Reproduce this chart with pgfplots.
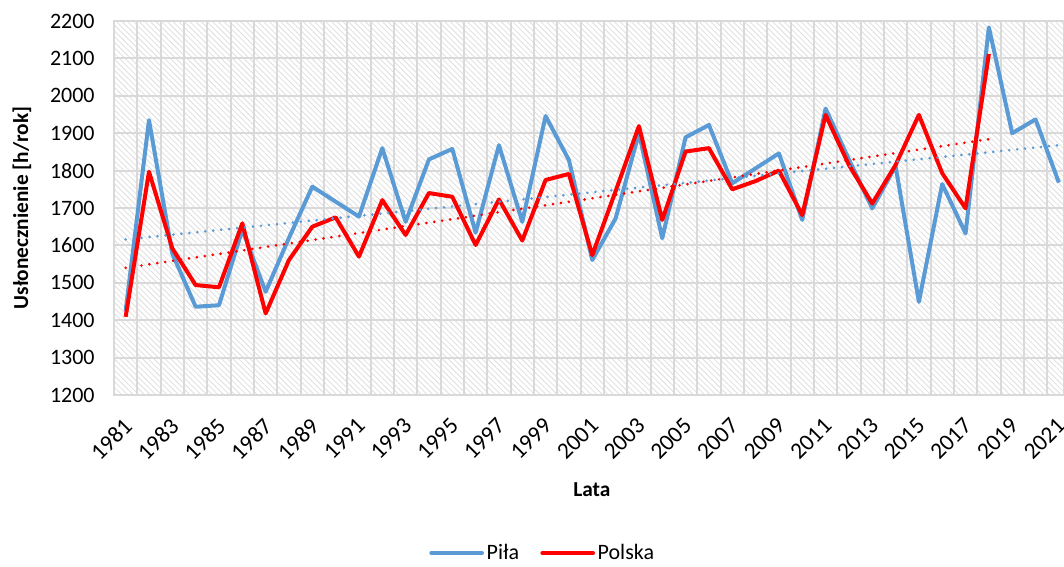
\documentclass[border=0pt]{standalone}
\usepackage{fontspec}
\setmainfont{Carlito}
\usepackage{pgfplots}
\pgfplotsset{compat=1.18}
\usepackage{pgfplotstable}
\usetikzlibrary{patterns.meta}
\definecolor{pila}{HTML}{5B9BD5}
\definecolor{polska}{HTML}{FF0000}
\definecolor{gridc}{HTML}{D9D9D9}
\pgfplotstableread{
i pila
0 1425
1 1935
2 1578
3 1436
4 1440
5 1642
6 1476
7 1620
8 1757
9 1717
10 1677
11 1860
12 1663
13 1830
14 1858
15 1634
16 1868
17 1663
18 1946
19 1828
20 1561
21 1672
22 1900
23 1619
24 1889
25 1922
26 1766
27 1806
28 1846
29 1668
30 1966
31 1830
32 1699
33 1812
34 1449
35 1764
36 1632
37 2183
38 1900
39 1937
40 1768
}\pilatab
\pgfplotstableread{
i polska
0 1409
1 1797
2 1592
3 1494
4 1488
5 1659
6 1418
7 1561
8 1650
9 1675
10 1570
11 1721
12 1628
13 1740
14 1730
15 1601
16 1723
17 1613
18 1775
19 1791
20 1574
21 1745
22 1919
23 1668
24 1851
25 1860
26 1750
27 1772
28 1800
29 1681
30 1949
31 1815
32 1712
33 1815
34 1949
35 1793
36 1699
37 2112
}\polskatab
\begin{document}
\begin{tikzpicture}
\path[use as bounding box] (0,0) rectangle (798pt,-425.25pt);
\begin{axis}[
  at={(85.5pt,-296.25pt)}, anchor=south west,
  scale only axis, width=712.5pt, height=280.5pt,
  xmin=-0.5, xmax=40.22, ymin=1200, ymax=2200,
  ytick={1200,1300,...,2200},
  xtick={0,2,...,40},
  xticklabels={1981,1983,1985,1987,1989,1991,1993,1995,1997,1999,2001,2003,2005,2007,2009,2011,2013,2015,2017,2019,2021},
  minor xtick={-0.5,0.5,...,40.5},
  xminorgrids, ymajorgrids,
  major tick length=0pt, minor tick length=0pt,
  tick style={draw=none},
  grid style={gridc, line width=1.5pt},
  minor grid style={gridc, line width=1.5pt},
  axis line style={gridc, line width=1.5pt},
  axis background/.style={pattern={Lines[angle=-45,distance=3pt,line width=0.6pt]}, pattern color=black!13},
  /pgf/number format/assume math mode=true,
  /pgf/number format/set thousands separator={},
  every tick label/.append style={font=\fontsize{16.5}{19}\selectfont},
  xticklabel style={font=\fontsize{17.5}{20}\selectfont, inner sep=0pt, anchor=north east, xshift=-2.5pt, yshift=-16pt, rotate=45},
  yticklabel style={xshift=-11pt},
  xlabel={\textbf{Lata}}, ylabel={\textbf{Usłonecznienie [h/rok]}},
  label style={font=\fontsize{16}{19}\selectfont},
  xlabel style={at={(axis description cs:0.503,-0.254)}, anchor=center},
  ylabel style={at={(axis description cs:-0.097,0.5)}, anchor=center},
  legend style={at={(axis description cs:0.4516,-0.4225)}, anchor=center, draw=none, fill=none,
    legend columns=2, font=\fontsize{16.5}{19}\selectfont,
    /tikz/every even column/.append style={column sep=14pt}},
  legend image code/.code={\draw[#1, line cap=round] (0pt,0pt) -- (38pt,0pt);},
]
\addplot[pila, line width=3pt, line join=round] table[x=i, y=pila] {\pilatab};
\addlegendentry{Piła}
\addplot[polska, line width=3pt, line join=round] table[x=i, y=polska] {\polskatab};
\addlegendentry{Polska}
\addplot[pila, line width=2.2pt, line cap=round, dash pattern=on 0pt off 6pt, forget plot] coordinates {(0,1616) (40,1868)};
\addplot[polska, line width=2.2pt, line cap=round, dash pattern=on 0pt off 6pt, forget plot] coordinates {(0,1540) (37,1884)};
\end{axis}
\end{tikzpicture}
\end{document}
